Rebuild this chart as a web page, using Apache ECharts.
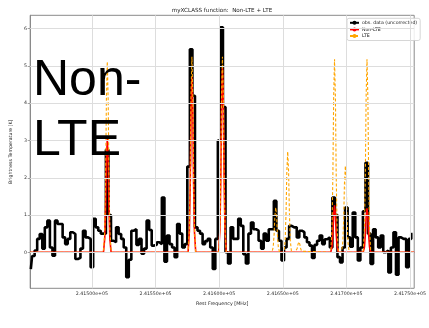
<!DOCTYPE html>
<html><head><meta charset="utf-8">
<script src="https://cdn.jsdelivr.net/npm/echarts@6/dist/echarts.min.js"></script>
<style>html,body{margin:0;padding:0;background:#fff}#c{width:429px;height:328px}</style>
</head><body><div id="c"></div>
<script>
const titleText = 'myXCLASS function:  Non-LTE + LTE';
const overlayText = 'Non-\nLTE';
const xName = 'Rest Frequency [MHz]';
const yName = 'Brightness Temperature [K]';
const seriesNames = ['obs. data (uncorrected)', 'Non-LTE', 'LTE'];
const xTickValues = [241500, 241550, 241600, 241650, 241700, 241750];
const xTickLabels = ['2.41500e+05', '2.41550e+05', '2.41600e+05', '2.41650e+05', '2.41700e+05', '2.41750e+05'];
const yTickValues = [0, 1, 2, 3, 4, 5, 6];
const yTickLabels = ['0', '1', '2', '3', '4', '5', '6'];

// observed spectrum: evenly spaced channels
const obsFreqStart = 241452;
const obsChannelWidth = 2.0;
const obsT = [
 -0.45,-0.1,0.05,0.36,0.49,0.1,0.67,0.85,0.13,-0.09,
 0.85,0.76,0.76,0.4,0.22,0.36,0.54,0.49,-0.18,-0.15,
 0.1,0.58,0.4,0.36,-0.4,0.9,0.67,0.58,0.5,0.5,
 2.75,1.0,0.31,0.27,0.67,0.49,0.36,0.13,-0.67,-0.2,
 0.58,0.62,0.2,0.36,-0.04,0.1,0.85,0.6,0.18,0.2,
 0.27,0.22,1.47,-0.25,0.45,0.22,0.13,-0.13,0.76,0.5,
 0.13,0.22,2.3,5.45,4.2,0.67,0.58,0.5,0.22,0.3,
 0.36,0.13,-0.45,0.36,3.0,6.04,3.9,0.0,-0.3,0.67,
 0.36,0.36,0.9,0.71,-0.05,-0.3,0.5,0.8,0.62,0.58,
 0.31,0.1,0.5,0.31,0.62,0.62,1.38,0.58,0.31,-0.22,
 0.13,0.36,0.71,0.67,0.67,0.4,0.58,0.54,0.4,0.27,
 0.18,-0.15,0.2,0.31,0.45,0.22,0.35,0.4,0.13,1.47,
 1.0,-0.13,-0.27,0.13,1.2,0.4,0.15,1.07,0.4,-0.22,
 0.13,1.1,2.4,0.5,-0.31,0.62,0.4,0.13,0.45,0.0,
 0.05,-0.54,0.13,0.54,-0.6,0.4,0.36,0.36,-0.4,0.36,
 0.49
];

// Non-LTE model (frequency, T)
const nonLte = [
 [241451.5,0],
 [241509.1,0],[241510.1,0.37],[241510.8,1.22],[241511.4,2.44],[241512.1,3.05],[241512.8,2.44],[241513.4,1.22],[241514.1,0.37],[241515.1,0],
 [241575.6,0],[241576.6,0.56],[241577.3,1.88],[241577.9,3.76],[241578.6,4.7],[241579.3,3.76],[241579.9,1.88],[241580.6,0.56],[241581.6,0],
 [241599.6,0],[241600.6,0.59],[241601.3,1.98],[241601.9,3.96],[241602.6,4.95],[241603.3,3.96],[241603.9,1.98],[241604.6,0.59],[241605.6,0],
 [241687.7,0],[241688.7,0.15],[241689.4,0.5],[241690.0,1.01],[241690.7,1.26],[241691.4,1.01],[241692.0,0.5],[241692.7,0.15],[241693.7,0],
 [241713.2,0],[241714.2,0.14],[241714.9,0.47],[241715.5,0.94],[241716.2,1.18],[241716.9,0.94],[241717.5,0.47],[241718.2,0.14],[241719.2,0],
 [241753.3,0]
];

// LTE model (frequency, T)
const lte = [
 [241451.5,0],
 [241509.1,0],[241510.1,0.61],[241510.8,2.05],[241511.4,4.1],[241512.1,5.12],[241512.8,4.1],[241513.4,2.05],[241514.1,0.61],[241515.1,0],
 [241575.6,0],[241576.6,0.63],[241577.3,2.1],[241577.9,4.2],[241578.6,5.25],[241579.3,4.2],[241579.9,2.1],[241580.6,0.63],[241581.6,0],
 [241599.6,0],[241600.6,0.63],[241601.3,2.1],[241601.9,4.2],[241602.6,5.25],[241603.3,4.2],[241603.9,2.1],[241604.6,0.63],[241605.6,0],
 [241641.5,0],[241642.5,0.14],[241643.2,0.48],[241643.8,0.96],[241644.5,1.2],[241645.2,0.96],[241645.8,0.48],[241646.5,0.14],[241647.5,0],
 [241650.9,0],[241651.9,0.32],[241652.6,1.08],[241653.2,2.16],[241653.9,2.7],[241654.6,2.16],[241655.2,1.08],[241655.9,0.32],[241656.9,0],
 [241659.7,0],[241660.7,0.03],[241661.4,0.11],[241662.0,0.22],[241662.7,0.28],[241663.4,0.22],[241664.0,0.11],[241664.7,0.03],[241665.7,0],
 [241687.7,0],[241688.7,0.62],[241689.4,2.07],[241690.0,4.14],[241690.7,5.18],[241691.4,4.14],[241692.0,2.07],[241692.7,0.62],[241693.7,0],
 [241696.2,0],[241697.2,0.28],[241697.9,0.93],[241698.5,1.86],[241699.2,2.32],[241699.9,1.86],[241700.5,0.93],[241701.2,0.28],[241702.2,0],
 [241713.2,0],[241714.2,0.62],[241714.9,2.07],[241715.5,4.14],[241716.2,5.18],[241716.9,4.14],[241717.5,2.07],[241718.2,0.62],[241719.2,0],
 [241753.3,0]
];

const obsData = obsT.map((t, i) => [obsFreqStart + i * obsChannelWidth, t]);
const FONT = 'DejaVu Sans';
const chart = echarts.init(document.getElementById('c'), null, {renderer: 'canvas'});
const gridLeft = 23.3, gridTop = 15.3, gridRight = 8, gridBottom = 39.7;
chart.setOption({
  animation: false,
  backgroundColor: '#fff',
  textStyle: {fontFamily: FONT},
  grid: {left: gridLeft, top: gridTop, right: gridRight, bottom: gridBottom, show: true, borderColor: '#8a8a8a', borderWidth: 1, backgroundColor: 'transparent'},
  legend: {
    data: seriesNames, orient: 'vertical', left: 347, top: 18.3,
    padding: [2, 3, 2, 2], itemGap: 1.6, itemWidth: 9, itemHeight: 5,
    backgroundColor: 'rgba(255,255,255,0.85)', borderColor: '#cccccc', borderWidth: 0.8, borderRadius: 2,
    textStyle: {fontSize: 4.7, color: '#222', fontFamily: FONT, padding: [0, 0, 0, -2]}
  },
  xAxis: {
    type: 'value', min: 241451.5, max: 241753.3,
    name: xName, nameLocation: 'middle', nameGap: 10.5,
    nameTextStyle: {fontSize: 4.8, color: '#222', fontFamily: FONT},
    axisLine: {show: true, lineStyle: {color: '#8a8a8a', width: 1}},
    axisTick: {show: true, length: 2.5, customValues: xTickValues, lineStyle: {color: '#8a8a8a', width: 0.8}},
    axisLabel: {customValues: xTickValues, fontSize: 4.7, color: '#333', margin: 3.4, fontFamily: FONT,
      formatter: v => { const k = xTickValues.indexOf(v); return k >= 0 ? xTickLabels[k] : ''; }},
    splitLine: {show: false}
  },
  yAxis: {
    type: 'value', min: -0.966, max: 6.36,
    name: yName, nameLocation: 'middle', nameGap: 8.2,
    nameTextStyle: {fontSize: 4.7, color: '#222', fontFamily: FONT},
    axisLine: {show: true, lineStyle: {color: '#8a8a8a', width: 1}},
    axisTick: {show: true, length: 2.5, customValues: yTickValues, lineStyle: {color: '#8a8a8a', width: 0.8}},
    axisLabel: {customValues: yTickValues, fontSize: 4.7, color: '#333', margin: 3.3, fontFamily: FONT,
      formatter: v => { const k = yTickValues.indexOf(v); return k >= 0 ? yTickLabels[k] : ''; }},
    splitLine: {show: false}
  },
  series: [
    {name: 'gridlines', type: 'line', data: [], z: 1, silent: true,
     markLine: {silent: true, symbol: ['none', 'none'], label: {show: false},
       lineStyle: {color: '#dddddd', width: 1, type: 'solid'},
       emphasis: {disabled: true},
       data: xTickValues.map(v => ({xAxis: v})).concat(yTickValues.map(v => ({yAxis: v})))}},
    {name: seriesNames[0], type: 'line', step: 'middle', data: obsData, symbol: 'none', z: 2,
     lineStyle: {color: '#000', width: 2.6}, itemStyle: {color: '#000'}},
    {name: seriesNames[1], type: 'line', data: nonLte, symbol: 'none', z: 3,
     lineStyle: {color: '#ff0000', width: 1.6}, itemStyle: {color: '#ff0000'}},
    {name: seriesNames[2], type: 'line', data: lte, symbol: 'none', z: 4,
     lineStyle: {color: '#ffa500', width: 1.1, type: [3, 2]}, itemStyle: {color: '#ffa500'}}
  ],
  graphic: [
    {type: 'text', x: 222, y: 11, z: 10, style: {text: titleText, font: '5.6px "DejaVu Sans"', fill: '#222', align: 'center', verticalAlign: 'middle'}},
    {type: 'text', x: 33, y: 51, z: 10, style: {text: overlayText, font: '50px "Liberation Sans"', fill: '#000', lineHeight: 60, align: 'left', verticalAlign: 'top'}}
  ]
});
</script></body></html>
